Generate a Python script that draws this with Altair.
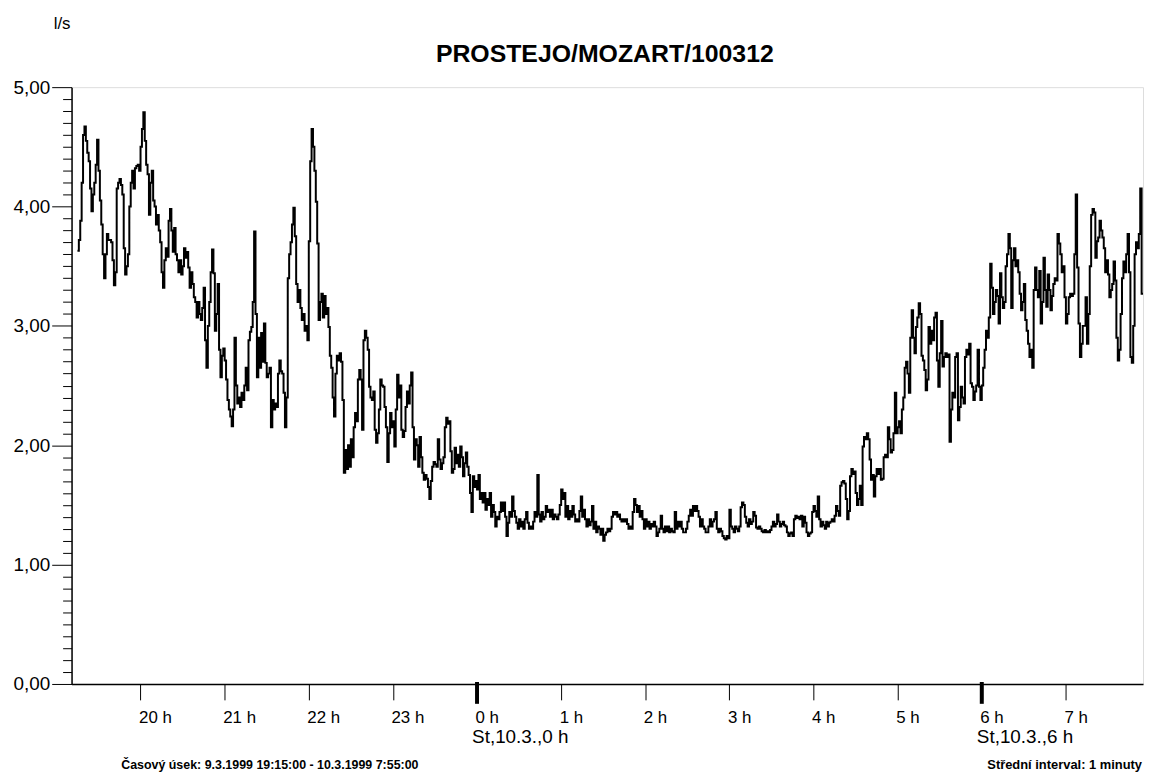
import altair as alt
import pandas as pd

# Flow readings (l/s), one per minute, grouped by hour
h19 = [3.63,3.72,3.88,4.2,4.6,4.67,4.55,4.45,4.38,4.15, 3.96,4.1,4.2,4.35,4.56,4.3,4.05,3.85,3.6,3.4,
       3.6,3.77,3.72,3.72,3.7,3.55,3.34,3.45,4.15,4.2, 4.23,4.18,4.1,3.65,3.43,3.5,3.6,4.0,4.2,4.3,
       4.15,4.32,4.34,4.35,4.3]
h20 = [4.5,4.65,4.79,4.55,4.35,4.27,3.93,4.2,4.3,4.05, 4.0,3.85,3.93,3.8,3.7,3.45,3.32,3.55,3.65,3.58,
       3.88,3.98,3.8,3.62,3.82,3.6,3.55,3.45,3.55,3.43, 3.5,3.65,3.57,3.62,3.49,3.32,3.45,3.35,3.24,3.2,
       3.07,3.2,3.1,3.05,3.15,3.32,2.88,2.65,3.0,3.2, 3.45,3.64,3.44,2.96,3.1,3.35,2.8,2.57,2.75,2.81]
h21 = [2.71,2.55,2.38,2.3,2.24,2.16,2.3,2.9,2.5,2.35, 2.4,2.32,2.44,2.38,2.5,2.65,2.46,2.88,2.95,2.99,
       3.2,3.79,3.1,2.57,2.9,2.65,2.94,2.7,3.02,2.69, 2.57,2.6,2.65,2.15,2.38,2.3,2.35,2.32,2.6,2.71,
       2.62,2.6,2.44,2.15,2.4,3.4,3.6,3.7,3.85,3.99, 3.75,3.35,3.2,3.3,3.15,3.05,3.1,2.96,3.0,2.88]
h22 = [3.71,4.38,4.65,4.5,4.3,4.04,3.69,3.05,3.2,3.27, 3.07,3.25,3.1,3.15,2.99,2.75,2.65,2.4,2.24,2.6,
       2.75,2.71,2.77,2.7,2.38,1.77,1.96,1.8,2.0,1.82, 2.05,1.9,2.15,2.27,2.2,2.55,2.63,2.55,2.13,2.88,
       2.96,2.9,2.8,2.49,2.4,2.38,2.45,2.13,2.02,2.1, 2.3,2.55,2.5,2.49,2.32,2.15,1.86,2.1,2.27,2.15]
h23 = [2.2,1.99,2.3,2.59,2.4,2.5,2.13,2.07,2.12,2.32, 2.45,2.35,2.5,2.61,2.15,1.88,2.05,2.0,1.82,2.07,
       1.9,1.77,1.71,1.75,1.72,1.65,1.55,1.7,1.82,1.86, 1.84,1.82,2.05,1.88,1.8,1.85,1.9,2.15,2.23,2.18,
       2.2,1.95,1.77,1.8,1.98,1.85,1.92,1.82,1.99,1.9, 1.74,1.85,1.94,1.82,1.75,1.6,1.44,1.74,1.65,1.7]
h0 = [1.63,1.75,1.55,1.6,1.52,1.6,1.46,1.55,1.5,1.6, 1.4,1.5,1.44,1.32,1.4,1.38,1.44,1.52,1.45,1.52,
      1.4,1.24,1.35,1.44,1.4,1.57,1.45,1.4,1.35,1.3, 1.38,1.32,1.36,1.3,1.38,1.44,1.35,1.3,1.32,1.3,
      1.36,1.44,1.4,1.75,1.42,1.36,1.44,1.38,1.4,1.49, 1.44,1.46,1.4,1.46,1.38,1.42,1.4,1.38,1.42,1.5]
h1 = [1.63,1.55,1.6,1.4,1.49,1.38,1.45,1.4,1.49,1.42, 1.36,1.38,1.36,1.45,1.57,1.4,1.46,1.38,1.32,1.38,
      1.33,1.36,1.49,1.3,1.36,1.27,1.32,1.3,1.25,1.3, 1.2,1.25,1.27,1.3,1.28,1.3,1.4,1.44,1.42,1.44,
      1.4,1.42,1.38,1.36,1.38,1.36,1.38,1.34,1.3,1.32, 1.3,1.44,1.55,1.5,1.44,1.49,1.4,1.45,1.38,1.3]
h2 = [1.38,1.32,1.36,1.3,1.34,1.32,1.36,1.32,1.24,1.27, 1.3,1.41,1.3,1.27,1.32,1.28,1.32,1.27,1.3,1.28,
      1.27,1.44,1.3,1.36,1.32,1.36,1.3,1.27,1.27,1.3, 1.36,1.41,1.46,1.41,1.49,1.45,1.49,1.45,1.4,1.32,
      1.38,1.32,1.3,1.27,1.27,1.32,1.38,1.32,1.36,1.38, 1.44,1.3,1.27,1.3,1.28,1.24,1.22,1.21,1.24,1.22]
h3 = [1.46,1.32,1.3,1.27,1.32,1.3,1.28,1.32,1.48,1.52, 1.5,1.4,1.35,1.32,1.38,1.34,1.36,1.44,1.41,1.31,
      1.3,1.32,1.3,1.28,1.27,1.29,1.27,1.28,1.27,1.29, 1.32,1.36,1.32,1.34,1.42,1.36,1.32,1.34,1.36,1.33,
      1.32,1.27,1.24,1.26,1.27,1.24,1.38,1.41,1.39,1.4, 1.38,1.41,1.32,1.4,1.35,1.27,1.24,1.26,1.27,1.44]
h4 = [1.49,1.45,1.4,1.57,1.38,1.32,1.36,1.33,1.3,1.36, 1.32,1.35,1.36,1.38,1.36,1.41,1.49,1.45,1.41,1.66,
      1.69,1.7,1.68,1.55,1.38,1.45,1.74,1.8,1.76,1.78, 1.6,1.5,1.55,1.66,1.5,1.99,2.07,2.05,2.1,2.05,
      1.88,1.71,1.75,1.57,1.74,1.8,1.76,1.8,1.71,1.72, 1.9,1.92,1.9,2.15,2.05,1.94,1.96,2.1,2.44,2.1]
h5 = [2.15,2.2,2.1,2.3,2.4,2.65,2.7,2.6,2.44,2.9, 3.13,2.9,2.77,2.99,3.07,3.19,3.1,2.75,2.71,2.63,
      2.46,2.55,2.99,2.85,2.96,2.88,3.07,3.11,2.71,2.49, 2.77,3.04,2.66,2.74,2.77,2.74,2.76,2.03,2.3,2.44,
      2.4,2.74,2.77,2.21,2.32,2.49,2.4,2.35,2.74,2.8, 2.76,2.85,2.52,2.49,2.38,2.45,2.5,2.8,2.49,2.38]
h6 = [2.5,2.65,2.8,2.96,2.9,3.07,3.52,3.32,3.1,3.2, 3.3,3.25,3.02,3.44,3.24,3.15,3.2,3.5,3.6,3.77,
      3.65,3.15,3.55,3.65,3.5,3.55,3.45,3.27,3.13,3.2, 3.35,3.05,2.96,2.85,2.74,2.8,2.65,3.3,3.49,3.3,
      3.24,3.46,3.02,3.2,3.57,3.3,3.16,3.43,3.3,3.13, 3.25,3.35,3.4,3.38,3.77,3.69,3.6,3.45,3.5,3.24]
h7 = [3.02,3.1,3.24,3.27,3.25,3.27,3.6,4.1,3.49,3.02, 2.74,2.85,3.0,3.0,3.24,2.85,3.1,3.5,3.93,3.98,
      3.95,3.57,3.71,3.74,3.88,3.8,3.74,3.65,3.45,3.55, 3.43,3.24,3.3,3.35,3.54,3.38,2.9,2.71,2.8,3.1,
      3.4,3.54,3.45,3.6,3.77,3.45,2.74,2.69,3.0,3.6, 3.7,3.65,3.77,4.15,3.27,3.27]

start_hour = 19.25          # 9.3.1999 19:15, first reading
axis_start = 19.18          # left edge of the time axis
end_hour = 31 + 55 / 60     # 10.3.1999 7:55

hour_ticks = [20, 21, 22, 23, 24, 25, 26, 27, 28, 29, 30, 31]
hour_labels = ["20 h", "21 h", "22 h", "23 h", "0 h", "1 h", "2 h", "3 h", "4 h", "5 h", "6 h", "7 h"]
day_ticks = [24, 30]
day_labels = ["St,10.3.,0 h", "St,10.3.,6 h"]

y_major = [0, 1, 2, 3, 4, 5]
y_labels = ["0,00", "1,00", "2,00", "3,00", "4,00", "5,00"]
y_minor = [i / 10 for i in range(51)]

title_text = "PROSTEJO/MOZART/100312"
unit_text = "l/s"
footer_left = "Časový úsek: 9.3.1999 19:15:00 - 10.3.1999 7:55:00"
footer_right = "Střední interval: 1 minuty"

values = h19 + h20 + h21 + h22 + h23 + h0 + h1 + h2 + h3 + h4 + h5 + h6 + h7
df = pd.DataFrame({"t": [start_hour + i / 60 for i in range(len(values))], "q": values})
day_df = pd.DataFrame({"t": day_ticks, "s": day_labels})

# label expressions
parts = [f"datum.value == {v} ? '{lab}'" for v, lab in zip(hour_ticks, hour_labels)]
x_label_expr = " : ".join(parts) + " : ''"
yparts = [f"abs(datum.value - {v}) < 0.001 ? '{lab}'" for v, lab in zip(y_major, y_labels)]
y_label_expr = " : ".join(yparts) + " : ''"

FONT = "Liberation Sans"
W, H = 1079, 601

x_scale = alt.Scale(domain=[axis_start, end_hour], nice=False, zero=False)

x_enc = alt.X(
    "t:Q",
    scale=x_scale,
    axis=alt.Axis(
        values=hour_ticks, labelExpr=x_label_expr, tickSize=16, tickWidth=1,
        labelAlign="left", labelBaseline="top", labelPadding=10, labelFontSize=17,
        labelFont=FONT, labelColor="black", labelFlush=False, labelOffset=-2,
        labelOverlap=False, domainColor="black", domainWidth=1.5, tickColor="black",
        grid=False, title=None,
    ),
)
y_enc = alt.Y(
    "q:Q",
    scale=alt.Scale(domain=[0, 5], nice=False),
    axis=alt.Axis(
        values=y_minor, labelExpr=y_label_expr,
        tickSize={"condition": {"test": "abs(datum.value - round(datum.value)) < 0.001", "value": 20}, "value": 9},
        tickColor="black", tickWidth=1, labelPadding=2, labelFontSize=19, labelFont=FONT,
        labelColor="black", labelOverlap=False, labelFlush=False, domainColor="black", domainWidth=1.5,
        grid=False, title=None,
    ),
)

line = alt.Chart(df).mark_line(interpolate="step-after", color="black", strokeWidth=2).encode(
    x=x_enc, y=y_enc
)

bold = alt.Chart(day_df).mark_rule(color="black", strokeWidth=4).encode(
    x=alt.X("t:Q", scale=x_scale), y=alt.value(H - 2), y2=alt.value(H + 20)
)

day_text = alt.Chart(day_df).mark_text(
    align="left", baseline="top", fontSize=19, font=FONT, color="black", dx=-5
).encode(x=alt.X("t:Q", scale=x_scale), y=alt.value(H + 44), text="s:N")


def label(text, x, y, size, weight, align):
    return alt.Chart(pd.DataFrame({"s": [text]})).mark_text(
        align=align, baseline="alphabetic", fontSize=size, fontWeight=weight, font=FONT, color="black"
    ).encode(text="s:N", x=alt.value(x), y=alt.value(y))


title = label(title_text, 537, -25, 25, "bold", "center")
unit = label(unit_text, -18, -59, 17, "normal", "left")
foot_l = label(footer_left, 50, H + 86, 12.5, "bold", "left")
foot_r = label(footer_right, W - 1, H + 86, 13, "bold", "right")

chart = (
    alt.layer(line, bold, day_text, title, unit, foot_l, foot_r)
    .properties(
        width=W, height=H,
        autosize=alt.AutoSizeParams(type="none"),
        padding={"left": 64, "top": 77, "right": 3, "bottom": 94},
    )
    .configure_view(stroke="black", strokeWidth=1.5)
    .configure(background="white")
)

chart.save("out.html", embed_options={"renderer": "svg", "actions": False})
